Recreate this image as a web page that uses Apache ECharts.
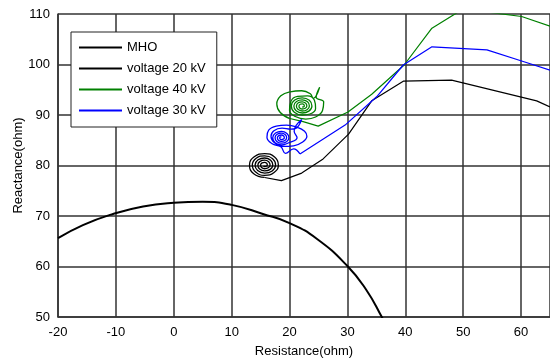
<!DOCTYPE html>
<html>
<head>
<meta charset="utf-8">
<script src="https://cdn.jsdelivr.net/npm/echarts@6/dist/echarts.min.js"></script>
<style>
html,body{margin:0;padding:0;background:#fff;}
#chart{width:550px;height:360px;}
</style>
</head>
<body>
<div id="chart"></div>
<script>
// ---- data ----
var legendNames = ['MHO', 'voltage 20 kV', 'voltage 40 kV', 'voltage 30 kV'];

var mhoPts = [[-20,65.6],[-15.7,68.2],[-10.5,70.4],[-5.3,71.9],[0,72.6],[5,72.8],[10,72.2],[15.4,70.4],[20,68.6],[24.7,65.5],[30,60.1],[33.3,55.3],[35.9,50.1],[36.6,48.4]];

var v20Path = [[65,91.6],[62.7,92.8],[48,96.9],[39.65,96.7],[34.2,92.8],[30.2,86.2],[25.8,81.3],[22.1,78.5],[18.6,77.0],[15.7,77.63]];
var v20Spiral = [[15.7,77.63],[13.81,78.39],[13.09,80.1],[13.9,81.73],[15.7,82.35],[17.42,81.66],[18.07,80.1],[17.33,78.62],
  [15.7,78.06],[14.15,78.7],[13.57,80.1],[14.24,81.43],[15.7,81.92],[17.08,81.35],[17.59,80.1],[17.0,78.93],
  [15.7,78.5],[14.49,79.0],[14.05,80.1],[14.57,81.12],[15.7,81.49],[16.74,81.04],[17.11,80.1],[16.66,79.23],
  [15.7,78.93],[14.83,79.31],[14.53,80.1],[14.91,80.81],[15.7,81.05],[16.4,80.74],[16.64,80.1],[16.32,79.54],
  [15.7,79.36],[15.17,79.62],[15.0,80.1],[15.25,80.51],[15.7,80.62],[16.06,80.43],[16.16,80.1],[15.98,79.85],[15.7,79.8],[15.5,79.9]];

var v40Path = [[65,107.6],[60.1,109.5],[50,111],[44.6,107.2],[39.8,99.9],[34.2,94.1],[30.1,90.6],[24.95,87.8],[22.35,88.7],[20.05,89.3]];
var v40Spiral = [[20.05,89.3],[18.4,90.5],[17.8,92.2],[18.5,93.8],[20.1,94.6],[22.1,94.8],[23.6,94.2],[24.1,93.3],[25.2,95.5],[24.6,93.5],
  [25.9,92.6],[25.7,90.9],[24.5,89.6],[22.8,89.2],[21.0,89.7],[20.0,90.9],[20.2,92.6],[21.4,93.7],[23.1,93.8],[24.3,92.9],[24.5,91.3],[23.5,90.2],
  [22.2,90.0],[20.82,90.56],[20.31,91.8],[20.9,92.97],[22.2,93.4],[23.42,92.9],[23.87,91.8],[23.34,90.77],
  [22.2,90.4],[21.14,90.84],[20.75,91.8],[21.21,92.69],[22.2,93.01],[23.11,92.62],[23.43,91.8],[23.03,91.05],
  [22.2,90.79],[21.45,91.12],[21.19,91.8],[21.52,92.41],[22.2,92.61],[22.8,92.34],[22.99,91.8],[22.72,91.33],
  [22.2,91.19],[21.76,91.4],[21.63,91.8],[21.84,92.13],[22.2,92.21],[22.49,92.06],[22.55,91.8],[22.41,91.61],[22.2,91.58]];

var v30Path = [[65,98.9],[60.1,100.7],[54.1,102.9],[44.6,103.5],[39.65,99.9],[35.05,93.6],[29.6,88.0],[21.8,82.3]];
var v30Spiral = [[21.8,82.3],[20.7,83.3],[19.3,82.4],[18.5,83.7],[17.0,84.3],[16.1,85.6],[16.4,87.0],[17.7,87.8],[19.5,88.0],[21.3,87.6],
  [22.6,86.8],[23.0,85.8],[22.2,84.6],[20.7,83.9],[18.9,83.8],[17.4,84.5],[16.8,85.8],[17.3,86.9],[18.7,87.4],[20.2,87.2],
  [21.0,87.3],[22.1,89.1],[20.8,86.8],[21.3,85.5],
  [19.77,84.45],[18.6,84.06],[17.5,84.51],[17.1,85.5],[17.58,86.42],[18.6,86.76],[19.55,86.36],
  [19.9,85.5],[19.48,84.7],[18.6,84.42],[17.79,84.77],[17.5,85.5],[17.86,86.17],[18.6,86.4],[19.27,86.1],
  [19.5,85.5],[19.2,84.96],[18.6,84.78],[18.07,85.02],[17.9,85.5],[18.14,85.91],[18.6,86.04],[18.99,85.85],
  [19.1,85.5],[18.92,85.21],[18.6,85.14],[18.35,85.28],[18.3,85.5],[18.42,85.66],[18.6,85.68]];

// axis ranges
var xMin = -20, xMax = 65, xStep = 10;
var yMin = 50, yMax = 110, yStep = 10;

var FONT = 'Liberation Sans, Arial, sans-serif';
var gridColor = '#333333';

function lineSeries(name, data, color, width, smooth) {
  return {
    name: name, type: 'line', data: data, symbol: 'none', smooth: smooth,
    clip: true, animation: false,
    lineStyle: { color: color, width: width },
    itemStyle: { color: color },
    emphasis: { disabled: true }
  };
}

var chart = echarts.init(document.getElementById('chart'), null, { renderer: 'canvas' });
chart.setOption({
  animation: false,
  backgroundColor: '#ffffff',
  textStyle: { fontFamily: FONT },
  grid: { left: 58, right: 0, top: 14, bottom: 43, containLabel: false, outerBoundsMode: 'none' },
  legend: {
    data: legendNames,
    orient: 'vertical',
    left: 71, top: 32,
    icon: 'rect', itemWidth: 43, itemHeight: 2, itemGap: 8,
    padding: [9, 11, 10, 8],
    backgroundColor: '#ffffff',
    borderColor: '#222222', borderWidth: 1,
    textStyle: { fontFamily: FONT, fontSize: 13, color: '#000' },
    selectedMode: false
  },
  xAxis: {
    type: 'value', min: xMin, max: xMax, interval: xStep,
    name: 'Resistance(ohm)', nameLocation: 'middle', nameGap: 28, nameMoveOverlap: false,
    nameTextStyle: { fontFamily: FONT, fontSize: 13, color: '#000' },
    axisLine: { show: true, onZero: false, lineStyle: { color: gridColor, width: 1.5 } },
    axisTick: { show: false },
    axisLabel: { fontFamily: FONT, fontSize: 13, color: '#000', margin: 9, showMaxLabel: false },
    splitLine: { show: true, lineStyle: { color: gridColor, width: 1.5 } }
  },
  yAxis: {
    type: 'value', min: yMin, max: yMax, interval: yStep,
    name: 'Reactance(ohm)', nameLocation: 'middle', nameGap: 33, nameMoveOverlap: false,
    nameTextStyle: { fontFamily: FONT, fontSize: 13, color: '#000' },
    axisLine: { show: true, onZero: false, lineStyle: { color: gridColor, width: 1.5 } },
    axisTick: { show: false },
    axisLabel: { fontFamily: FONT, fontSize: 13, color: '#000', margin: 8 },
    splitLine: { show: true, lineStyle: { color: gridColor, width: 1.5 } }
  },
  series: [
    lineSeries('MHO', mhoPts, '#000000', 2, 0.5),
    lineSeries('voltage 20 kV', v20Path, '#000000', 1.2, false),
    lineSeries('voltage 20 kV', v20Spiral, '#000000', 1.3, 0.5),
    lineSeries('voltage 40 kV', v40Path, '#008000', 1.2, false),
    lineSeries('voltage 40 kV', v40Spiral, '#008000', 1.3, 0.45),
    lineSeries('voltage 30 kV', v30Path, '#0000ff', 1.2, false),
    lineSeries('voltage 30 kV', v30Spiral, '#0000ff', 1.3, 0.45)
  ]
});
</script>
</body>
</html>
